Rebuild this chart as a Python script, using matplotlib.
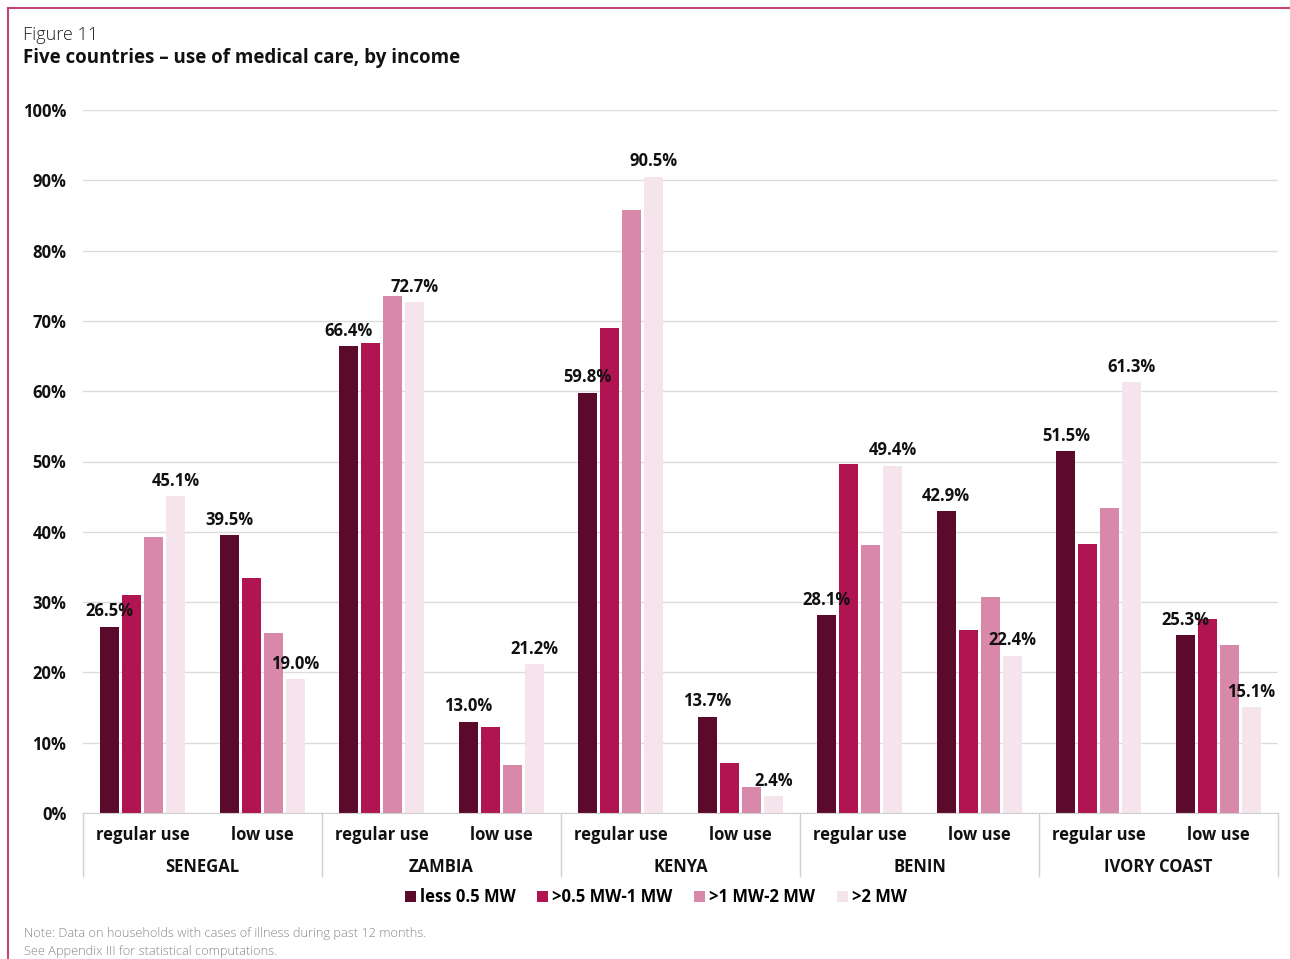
import matplotlib
matplotlib.use("Agg")
import matplotlib.pyplot as plt
from matplotlib.lines import Line2D
from matplotlib.patches import Patch
import numpy as np

countries = ["SENEGAL", "ZAMBIA", "KENYA", "BENIN", "IVORY COAST"]
subgroups = ["regular use", "low use"]
series_names = ["less 0.5 MW", ">0.5 MW-1 MW", ">1 MW-2 MW", ">2 MW"]
# values per subgroup (country x use), ordered Senegal reg, Senegal low, Zambia reg, ...
less_05 = [26.5, 39.5, 66.4, 13.0, 59.8, 13.7, 28.1, 42.9, 51.5, 25.3]
mw_05_1 = [31.0, 33.4, 66.9, 12.2, 69.0, 7.1, 49.6, 26.0, 38.3, 27.6]
mw_1_2 = [39.3, 25.6, 73.5, 6.8, 85.8, 3.7, 38.1, 30.7, 43.4, 23.9]
mw_2 = [45.1, 19.0, 72.7, 21.2, 90.5, 2.4, 49.4, 22.4, 61.3, 15.1]
yticks = [0, 10, 20, 30, 40, 50, 60, 70, 80, 90, 100]

series = [less_05, mw_05_1, mw_1_2, mw_2]
colors = ["#5B0A2B", "#B01451", "#D888A8", "#F6E4EC"]
labeled = [0, 3]

plt.rcParams['font.family'] = ['Open Sans', 'DejaVu Sans']

fig = plt.figure(figsize=(12.9, 9.59), dpi=100)
ax = fig.add_axes([83/1290, 1-813/959, (1278-83)/1290, (813-110)/959])

n = len(less_05)
x = np.arange(n)
width = 0.159
step = 0.184
offsets = (np.arange(4) - 1.5) * step
for i, (vals, col) in enumerate(zip(series, colors)):
    ax.bar(x + offsets[i], vals, width=width, color=col, zorder=3, label=series_names[i])
    if i in labeled:
        for xi, v in zip(x, vals):
            ax.text(xi + offsets[i], v + 0.9, f"{v:.1f}%", ha="center", va="bottom",
                    fontsize=12, fontweight="bold", color="#111111", zorder=5)

ax.set_xlim(-0.5, n - 0.5)
ax.set_ylim(0, 100)
ax.set_yticks(yticks)
ax.set_yticklabels([f"{t}%" for t in yticks], fontsize=12, fontweight="bold", color="#111111")
ax.tick_params(axis="y", length=0, pad=12)
ax.tick_params(axis="x", length=0, labelbottom=False)
ax.grid(axis="y", color="#DCDCDC", linewidth=1, zorder=0)
for s in ["top", "right", "left"]:
    ax.spines[s].set_visible(False)
ax.spines["bottom"].set_color("#D0D0D0")
ax.spines["bottom"].set_zorder(4)

# category labels
trans = ax.get_xaxis_transform()
for xi in x:
    ax.text(xi, -22/703, subgroups[xi % 2], transform=trans, ha="center", va="center",
            fontsize=12, fontweight="bold", color="#111111")
for ci, c in enumerate(countries):
    ax.text(2 * ci + 0.5, -54/703, c, transform=trans, ha="center", va="center",
            fontsize=12, fontweight="bold", color="#111111")
for k in range(len(countries) + 1):
    xs = 2 * k - 0.5
    ax.add_line(Line2D([xs, xs], [0, -63/703], transform=trans, color="#D0D0D0",
                       linewidth=1, clip_on=False))

# legend
handles = [Patch(facecolor=c, edgecolor="none") for c in colors]
fig.legend(handles, series_names, loc="center", bbox_to_anchor=(656/1290, 1-897/959),
           ncol=4, frameon=False, handlelength=0.65, handleheight=0.65,
           handletextpad=0.25, columnspacing=1.3, prop={"weight": "bold", "size": 12})

# titles
fig.text(23/1290, 1-35/959, "Figure 11", fontsize=13, color="#222222", va="center",
         fontweight="light")
fig.text(23/1290, 1-58/959, "Five countries – use of medical care, by income", fontsize=13.5,
         fontweight="bold", color="#111111", va="center")

# notes
fig.text(24/1290, 1-934/959, "Note: Data on households with cases of illness during past 12 months.",
         fontsize=9.2, color="#888888", va="center", fontweight="light")
fig.text(24/1290, 1-952/959, "See Appendix III for statistical computations.",
         fontsize=9.2, color="#888888", va="center", fontweight="light")

# frame
frame_col = "#C2437A"
fig.add_artist(Line2D([8/1290, 1.0], [1-8/959, 1-8/959], transform=fig.transFigure,
                      color=frame_col, linewidth=1.5))
fig.add_artist(Line2D([8/1290, 8/1290], [0, 1-8/959], transform=fig.transFigure,
                      color=frame_col, linewidth=1.5))

fig.savefig("out.png", dpi=100, facecolor="white")
